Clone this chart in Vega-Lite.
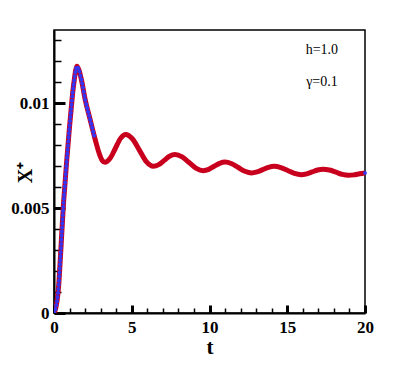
{
  "$schema": "https://vega.github.io/schema/vega-lite/v6.json",
  "width": 311,
  "height": 283,
  "autosize": {"type": "none"},
  "padding": {"left": 54, "top": 30, "right": 50, "bottom": 56},
  "background": "white",
  "config": {"view": {"stroke": "black", "strokeWidth": 1.5}, "font": "Liberation Serif"},
  "datasets": {
    "curve": [
      {"t": 0, "x": 0},
      {"t": 0.1, "x": 0.0002},
      {"t": 0.2, "x": 0.0006},
      {"t": 0.3, "x": 0.0013},
      {"t": 0.4, "x": 0.0025},
      {"t": 0.5, "x": 0.0038},
      {"t": 0.6, "x": 0.0051},
      {"t": 0.7, "x": 0.0061},
      {"t": 0.8, "x": 0.0071},
      {"t": 0.9, "x": 0.008},
      {"t": 1.0, "x": 0.0089},
      {"t": 1.1, "x": 0.0097},
      {"t": 1.2, "x": 0.0105},
      {"t": 1.3, "x": 0.0111},
      {"t": 1.4, "x": 0.0116},
      {"t": 1.47, "x": 0.01177},
      {"t": 1.6, "x": 0.0116},
      {"t": 1.8, "x": 0.011},
      {"t": 2.0, "x": 0.0102},
      {"t": 2.3, "x": 0.0093},
      {"t": 2.64, "x": 0.0083},
      {"t": 2.96, "x": 0.0075},
      {"t": 3.1, "x": 0.00728},
      {"t": 3.28, "x": 0.00719},
      {"t": 3.61, "x": 0.00738},
      {"t": 3.95, "x": 0.00786},
      {"t": 4.28, "x": 0.00833},
      {"t": 4.61, "x": 0.00852},
      {"t": 5.05, "x": 0.0083},
      {"t": 5.5, "x": 0.00776},
      {"t": 5.94, "x": 0.00722},
      {"t": 6.39, "x": 0.007},
      {"t": 6.74, "x": 0.00708},
      {"t": 7.09, "x": 0.00728},
      {"t": 7.43, "x": 0.00748},
      {"t": 7.78, "x": 0.00756},
      {"t": 8.24, "x": 0.00745},
      {"t": 8.69, "x": 0.00718},
      {"t": 9.15, "x": 0.0069},
      {"t": 9.6, "x": 0.00679},
      {"t": 9.95, "x": 0.00685},
      {"t": 10.3, "x": 0.007},
      {"t": 10.65, "x": 0.00714},
      {"t": 11.0, "x": 0.0072},
      {"t": 11.43, "x": 0.00712},
      {"t": 11.85, "x": 0.00694},
      {"t": 12.28, "x": 0.00676},
      {"t": 12.7, "x": 0.00668},
      {"t": 13.06, "x": 0.00673},
      {"t": 13.43, "x": 0.00684},
      {"t": 13.79, "x": 0.00695},
      {"t": 14.15, "x": 0.007},
      {"t": 14.59, "x": 0.00694},
      {"t": 15.03, "x": 0.0068},
      {"t": 15.46, "x": 0.00666},
      {"t": 15.9, "x": 0.0066},
      {"t": 16.25, "x": 0.00664},
      {"t": 16.6, "x": 0.00673},
      {"t": 16.95, "x": 0.00682},
      {"t": 17.3, "x": 0.00686},
      {"t": 17.71, "x": 0.00682},
      {"t": 18.13, "x": 0.00672},
      {"t": 18.54, "x": 0.00661},
      {"t": 18.95, "x": 0.00657},
      {"t": 19.3, "x": 0.00659},
      {"t": 19.65, "x": 0.00664},
      {"t": 20, "x": 0.00668}
    ],
    "notes": [
      {"t": 17.23, "x": 0.01255, "label": "h=1.0"},
      {"t": 17.23, "x": 0.01102, "label": "γ=0.1"}
    ]
  },
  "encoding": {
    "x": {
      "field": "t",
      "type": "quantitative",
      "scale": {"domain": [0, 20], "nice": false, "zero": false},
      "axis": {
        "values": [0,1,2,3,4,5,6,7,8,9,10,11,12,13,14,15,16,17,18,19,20],
        "title": "t",
        "titleFont": "Liberation Serif",
        "titleFontSize": 21,
        "titleFontWeight": "bold",
        "titleColor": "black",
        "titlePadding": -2,
        "labelExpr": "datum.value % 5 === 0 ? datum.label : ''",
        "labelFont": "Liberation Serif",
        "labelFontSize": 17,
        "labelFontWeight": "bold",
        "labelColor": "black",
        "labelPadding": 14,
        "labelFlush": false,
        "labelOverlap": false,
        "tickColor": "black",
        "tickSize": {"condition": {"test": "datum.value % 5 === 0", "value": -8}, "value": -5},
        "tickWidth": {"condition": {"test": "datum.value % 5 === 0", "value": 3}, "value": 1.5},
        "domainColor": "black",
        "domainWidth": 2,
        "grid": false
      }
    },
    "y": {
      "field": "x",
      "type": "quantitative",
      "scale": {"domain": [0, 0.0135], "nice": false, "zero": false},
      "axis": {
        "values": [0,0.001,0.002,0.003,0.004,0.005,0.006,0.007,0.008,0.009,0.01,0.011,0.012,0.013],
        "title": "X⁺",
        "titleFont": "Liberation Serif",
        "titleFontSize": 20,
        "titleFontWeight": "bold",
        "titleColor": "black",
        "titleAngle": -90,
        "titleAlign": "center",
        "titleBaseline": "middle",
        "titleX": -29,
        "titleY": 142,
        "labelExpr": "abs(datum.value) < 1e-9 ? '0' : abs(datum.value - 0.005) < 1e-9 ? '0.005' : abs(datum.value - 0.01) < 1e-9 ? '0.01' : ''",
        "labelFont": "Liberation Serif",
        "labelFontSize": 17,
        "labelFontWeight": "bold",
        "labelColor": "black",
        "labelPadding": 16,
        "labelFlush": false,
        "labelOverlap": false,
        "tickColor": "black",
        "tickSize": {"condition": {"test": "round(datum.value * 1000) % 5 === 0", "value": -11}, "value": -7},
        "tickWidth": {"condition": {"test": "round(datum.value * 1000) % 5 === 0", "value": 3}, "value": 1.5},
        "domainColor": "black",
        "domainWidth": 2,
        "grid": false
      }
    }
  },
  "layer": [
    {
      "data": {"name": "curve"},
      "mark": {"type": "line", "interpolate": "monotone", "color": "#c8001e", "strokeWidth": 5, "clip": true}
    },
    {
      "data": {"name": "curve"},
      "transform": [{"filter": "datum.t <= 2.8"}],
      "mark": {"type": "line", "interpolate": "monotone", "color": "#3434f4", "strokeWidth": 4, "strokeDash": [0.1, 4], "strokeCap": "round", "clip": true}
    },
    {
      "data": {"name": "curve"},
      "transform": [{"filter": "datum.t == 20"}],
      "mark": {"type": "point", "filled": true, "color": "#3434f4", "size": 14, "opacity": 1}
    },
    {
      "data": {"name": "notes"},
      "mark": {"type": "text", "font": "Liberation Serif", "fontSize": 14, "color": "black", "align": "center", "baseline": "middle"},
      "encoding": {"text": {"field": "label"}}
    }
  ]
}
